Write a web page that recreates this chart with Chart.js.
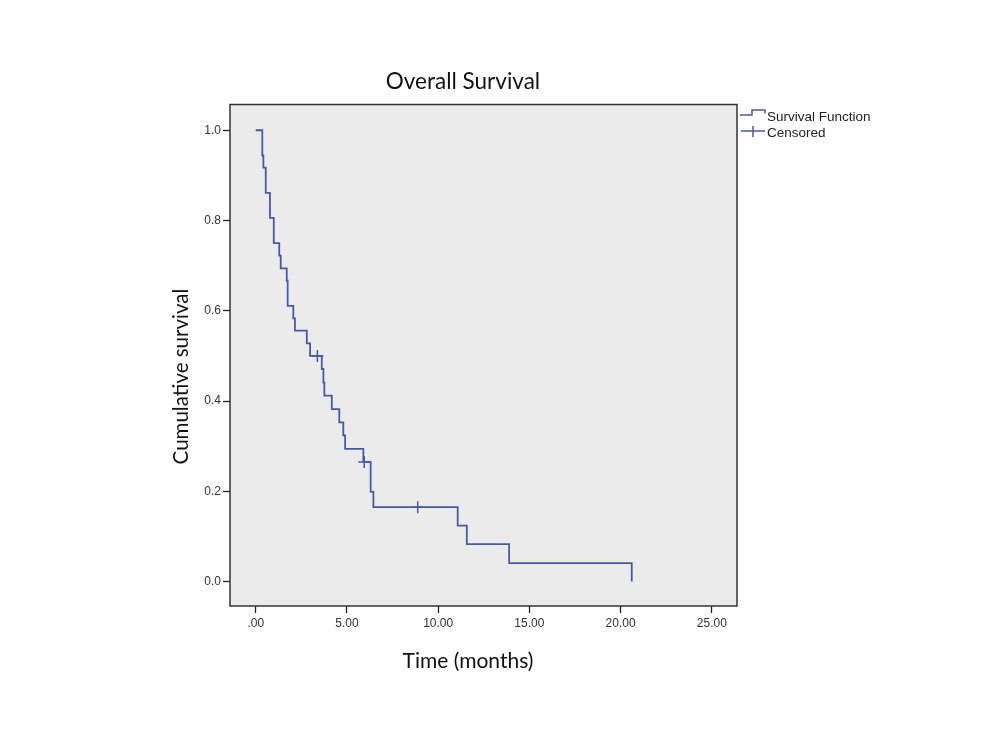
<!DOCTYPE html>
<html>
<head>
<meta charset="utf-8">
<title>Overall Survival</title>
<script src="https://cdn.jsdelivr.net/npm/chart.js@4.4.1/dist/chart.umd.min.js"></script>
<style>
  html, body { margin: 0; padding: 0; background: #fff; }
  #wrap { width: 1004px; height: 753px; }
</style>
</head>
<body>
<div id="wrap"><canvas id="myChart" width="1004" height="753"></canvas></div>
<script>
// Kaplan-Meier steps (time in months, cumulative survival)
const eventTimes = [0, 0.36, 0.42, 0.55, 0.78, 0.99, 1.29, 1.37, 1.70, 1.75, 2.06, 2.15, 2.80, 2.98,
                    3.62, 3.71, 3.76, 4.17, 4.58, 4.80, 4.90, 5.90, 6.30, 6.45, 11.07, 11.57, 13.89, 20.61];
const survival = [1.000, 0.944, 0.917, 0.861, 0.806, 0.750, 0.722, 0.694, 0.667, 0.611, 0.583, 0.556, 0.528, 0.500,
                  0.471, 0.441, 0.412, 0.382, 0.353, 0.324, 0.294, 0.265, 0.199, 0.165, 0.124, 0.083, 0.041, 0.000];
const censorTimes = [3.38, 5.95, 8.88];
const censorSurvival = [0.500, 0.265, 0.165];

const xTicks = [0, 5, 10, 15, 20, 25];
const xTickLabels = [".00", "5.00", "10.00", "15.00", "20.00", "25.00"];
const yTicks = [0, 0.2, 0.4, 0.6, 0.8, 1.0];
const yTickLabels = ["0.0", "0.2", "0.4", "0.6", "0.8", "1.0"];

const lineColor = "#4759a8";
const tickFont = { family: "Liberation Sans, Arial, sans-serif", size: 12 };
const titleFont = "Lato, 'Open Sans', sans-serif";

// plot background, frame, titles and the SPSS-style legend
const framePlugin = {
    id: "frame",
    beforeDraw(chart) {
        const { ctx, chartArea: a } = chart;
        ctx.save();
        ctx.fillStyle = "#ebebeb";
        ctx.fillRect(a.left, a.top, a.right - a.left, a.bottom - a.top);
        ctx.restore();
    },
    afterDraw(chart) {
        const { ctx, chartArea: a } = chart;
        ctx.save();
        ctx.strokeStyle = "#333";
        ctx.lineWidth = 1.5;
        ctx.strokeRect(a.left, a.top, a.right - a.left, a.bottom - a.top);

        // titles
        ctx.fillStyle = "#111";
        ctx.textAlign = "center";
        ctx.textBaseline = "middle";
        ctx.font = "22.5px " + titleFont;
        ctx.fillText("Overall Survival", a.left + 233, a.top - 23);
        ctx.font = "21px " + titleFont;
        ctx.fillText("Time (months)", a.left + 238, a.bottom + 55);
        ctx.save();
        ctx.translate(a.left - 49, a.top + 272);
        ctx.rotate(-Math.PI / 2);
        ctx.font = "20.5px " + titleFont;
        ctx.fillText("Cumulative survival", 0, 0);
        ctx.restore();

        // legend
        const lx = a.right + 3;
        const ds = chart.data.datasets;
        ctx.strokeStyle = lineColor;
        ctx.lineWidth = 1.5;
        ctx.beginPath();
        ctx.moveTo(lx, 115);
        ctx.lineTo(lx + 12, 115);
        ctx.lineTo(lx + 12, 110);
        ctx.lineTo(lx + 25, 110);
        ctx.lineTo(lx + 25, 113.5);
        ctx.stroke();
        ctx.beginPath();
        ctx.moveTo(lx + 1, 131);
        ctx.lineTo(lx + 25, 131);
        ctx.moveTo(lx + 13, 126);
        ctx.lineTo(lx + 13, 137);
        ctx.stroke();
        ctx.fillStyle = "#222";
        ctx.textAlign = "left";
        ctx.font = "13.5px Liberation Sans, Arial, sans-serif";
        ctx.fillText(ds[0].label, lx + 27, 117);
        ctx.fillText(ds[1].label, lx + 27, 133);
        ctx.restore();
    }
};

const ctx = document.getElementById("myChart").getContext("2d");

const chartInstance = new Chart(ctx, {
    type: "scatter",
    data: {
        datasets: [
            {
                label: "Survival Function",
                data: eventTimes.map((t, i) => ({ x: t, y: survival[i] })),
                showLine: true,
                stepped: true,
                borderColor: lineColor,
                borderWidth: 1.8,
                pointRadius: 0,
                fill: false
            },
            {
                label: "Censored",
                data: censorTimes.map((t, i) => ({ x: t, y: censorSurvival[i] })),
                showLine: false,
                pointStyle: "cross",
                pointRadius: 6,
                borderColor: lineColor,
                backgroundColor: lineColor,
                borderWidth: 1.5
            }
        ]
    },
    options: {
        responsive: false,
        animation: false,
        devicePixelRatio: 1,
        layout: { padding: { left: 190, right: 267, top: 104.5, bottom: 107 } },
        plugins: {
            legend: { display: false },
            title: { display: false },
            tooltip: { enabled: false }
        },
        scales: {
            x: {
                type: "linear",
                min: -1.41,
                max: 26.38,
                afterBuildTicks: s => { s.ticks = xTicks.map(v => ({ value: v })); },
                afterFit: s => { s.height = 40; },
                border: { display: false },
                grid: { drawOnChartArea: false, drawTicks: true, tickLength: 7, tickWidth: 1.3, tickColor: "#222" },
                ticks: {
                    autoSkip: false,
                    maxRotation: 0,
                    padding: 3,
                    color: "#333",
                    font: tickFont,
                    callback: v => xTickLabels[xTicks.indexOf(v)]
                }
            },
            y: {
                type: "linear",
                min: -0.054,
                max: 1.057,
                afterBuildTicks: s => { s.ticks = yTicks.map(v => ({ value: v })); },
                afterFit: s => { s.width = 40; },
                border: { display: false },
                grid: { drawOnChartArea: false, drawTicks: true, tickLength: 7, tickWidth: 1.3, tickColor: "#222" },
                ticks: {
                    autoSkip: false,
                    padding: 2,
                    color: "#333",
                    font: tickFont,
                    callback: v => yTickLabels[yTicks.indexOf(v)]
                }
            }
        }
    },
    plugins: [framePlugin]
});
</script>
</body>
</html>
